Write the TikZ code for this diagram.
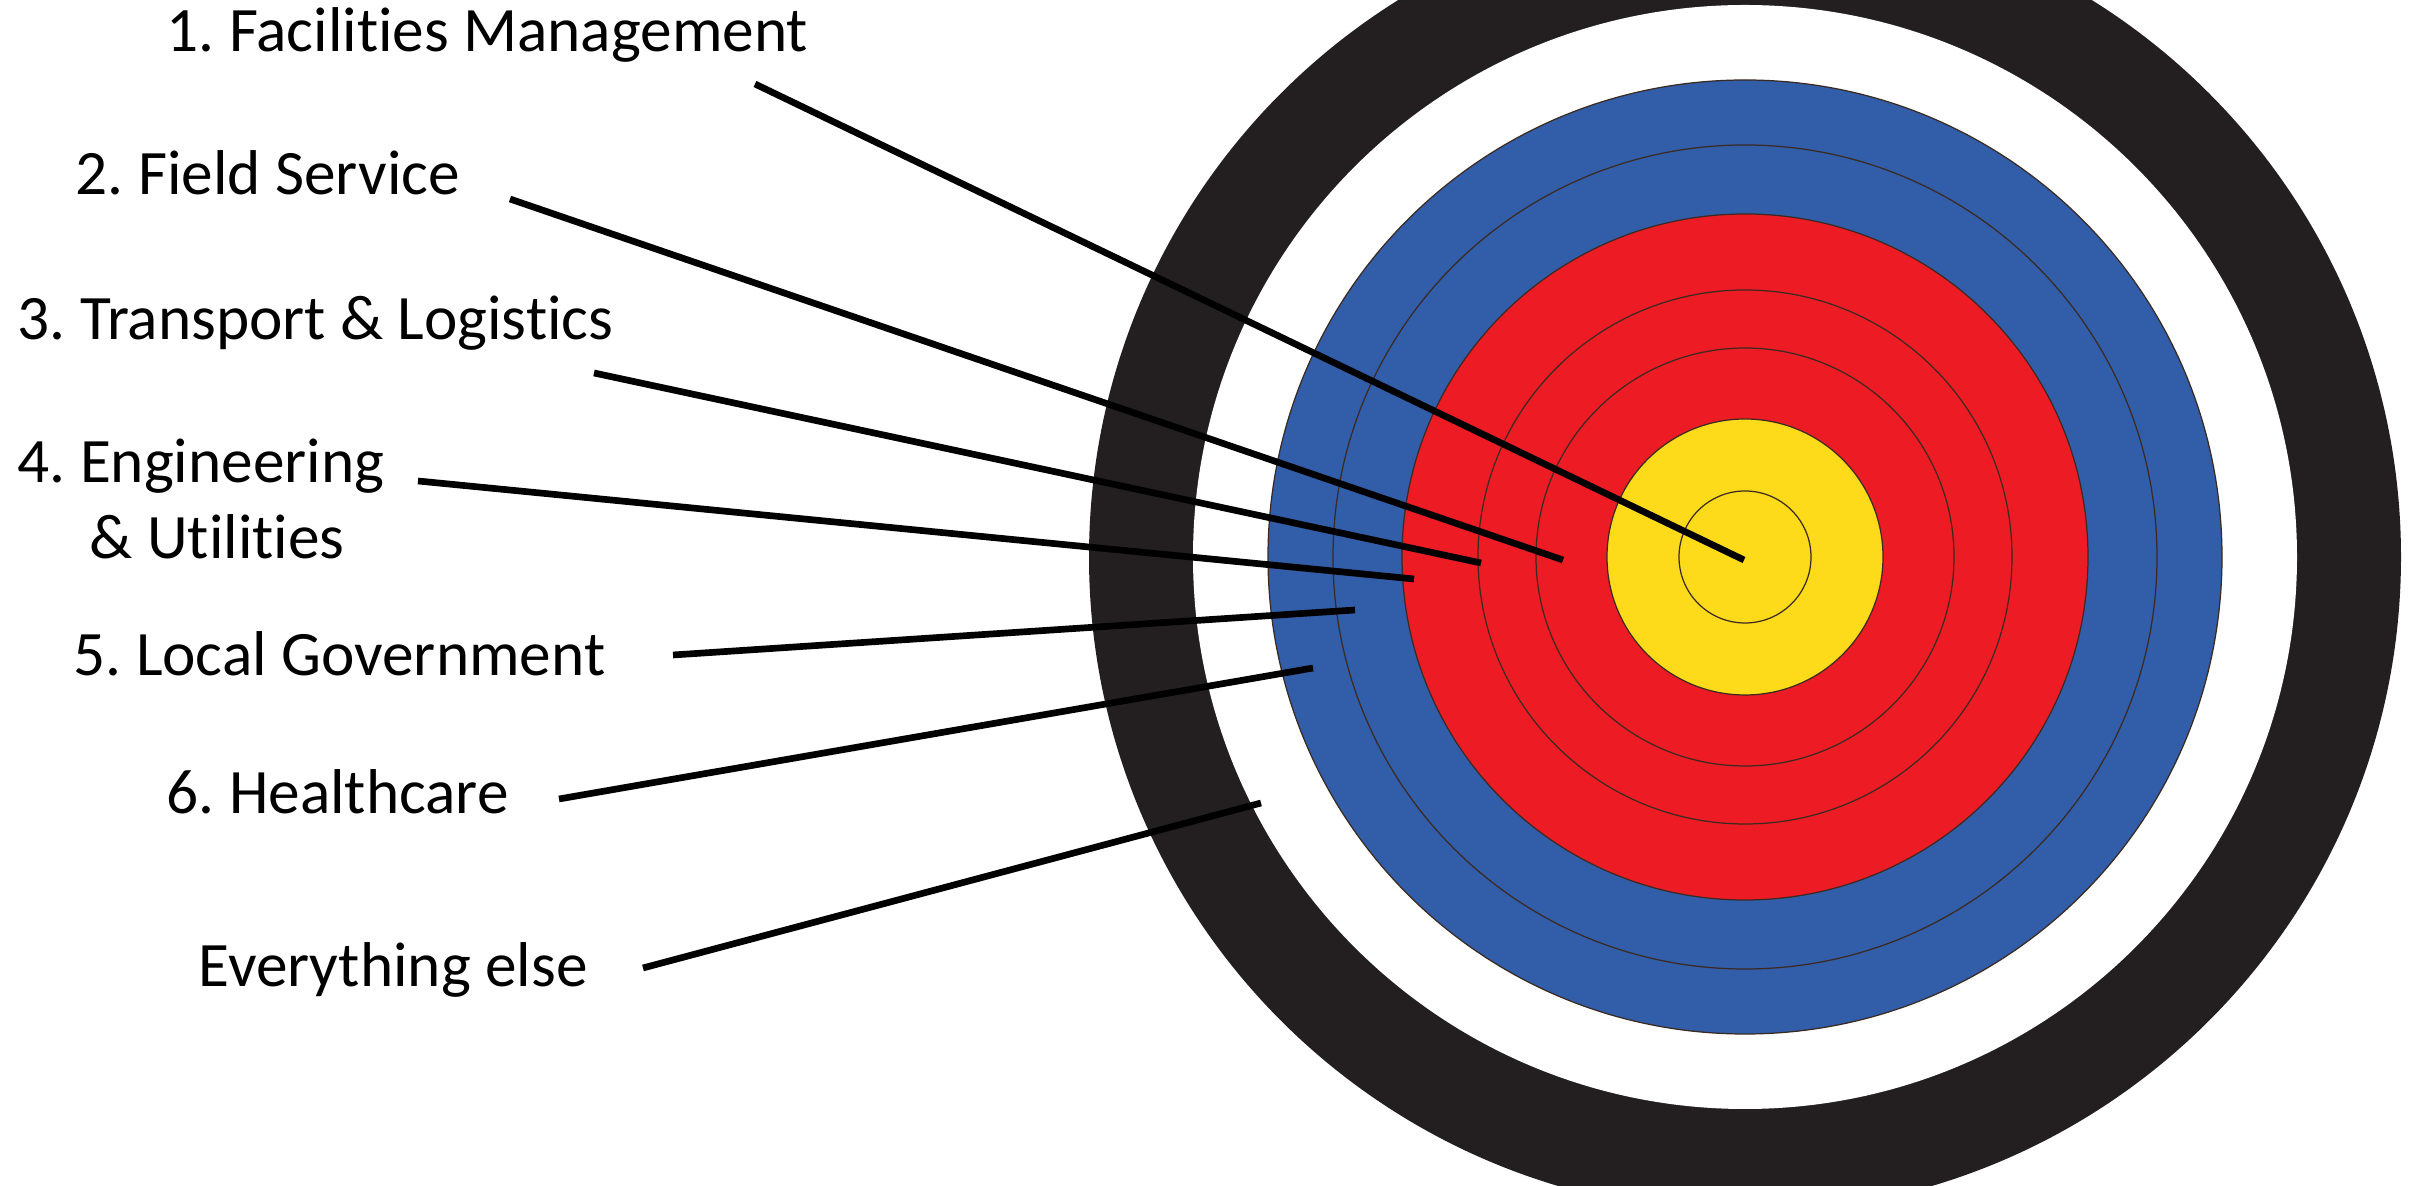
\documentclass[tikz,border=0pt]{standalone}
\usepackage{fontspec}
\setmainfont{Carlito}[Ligatures=NoCommon]
\frenchspacing
\definecolor{ringblack}{HTML}{231F20}
\definecolor{ringblue}{HTML}{325DA8}
\definecolor{ringred}{HTML}{ED1C24}
\definecolor{ringyellow}{HTML}{FDDB1A}
\definecolor{ringline}{HTML}{3A2A22}
\tikzset{
  lbl/.style={anchor=base west, inner sep=0pt, font=\fontsize{18}{21}\selectfont, text=black},
  pointer/.style={draw=black, line width=1.9pt},
  ringedge/.style={draw=ringline, line width=0.35pt},
}
\begin{document}
\begin{tikzpicture}[x=0.01cm, y=-0.01cm]
\useasboundingbox (0,0) rectangle (2420,1186);
\fill[white] (0,0) rectangle (2420,1186);
\begin{scope}
\clip (0,0) rectangle (2420,1186);
\coordinate (c) at (1745,557);
\fill[ringblack] (c) circle[radius=656];
\fill[white] (c) circle[radius=552];
\fill[ringblue, ringedge] (c) circle[radius=477];
\draw[ringedge] (c) circle[radius=412];
\fill[ringred, ringedge] (c) circle[radius=343];
\draw[ringedge] (c) circle[radius=267];
\draw[ringedge] (c) circle[radius=209];
\fill[ringyellow, ringedge] (c) circle[radius=138];
\draw[ringedge] (c) circle[radius=66];
\end{scope}

\node[lbl] (t1) at (166,52) {1. Facilities Management};
\node[lbl] (t2) at (75,195) {2. Field Service};
\node[lbl] (t3) at (17,340) {3. Transport \& Logistics};
\node[lbl] (t4) at (17,483) {4. Engineering};
\node[lbl] (t4b) at (89,559) {\& Utilities};
\node[lbl] (t5) at (73,676) {5. Local Government};
\node[lbl] (t6) at (166,814) {6. Healthcare};
\node[lbl] (t7) at (198,987) {Everything else};

\coordinate (s1) at (755,84);
\coordinate (e1) at (1744,560);
\coordinate (s2) at (510,199);
\coordinate (e2) at (1563,560);
\coordinate (s3) at (594,373);
\coordinate (e3) at (1481,563);
\coordinate (s4) at (418,481);
\coordinate (e4) at (1414,579);
\coordinate (s5) at (673,655);
\coordinate (e5) at (1355,610);
\coordinate (s6) at (559,799);
\coordinate (e6) at (1313,668);
\coordinate (s7) at (643,968);
\coordinate (e7) at (1261,803);

\draw[pointer] (s1) -- (e1);
\draw[pointer] (s2) -- (e2);
\draw[pointer] (s3) -- (e3);
\draw[pointer] (s4) -- (e4);
\draw[pointer] (s5) -- (e5);
\draw[pointer] (s6) -- (e6);
\draw[pointer] (s7) -- (e7);
\end{tikzpicture}
\end{document}
